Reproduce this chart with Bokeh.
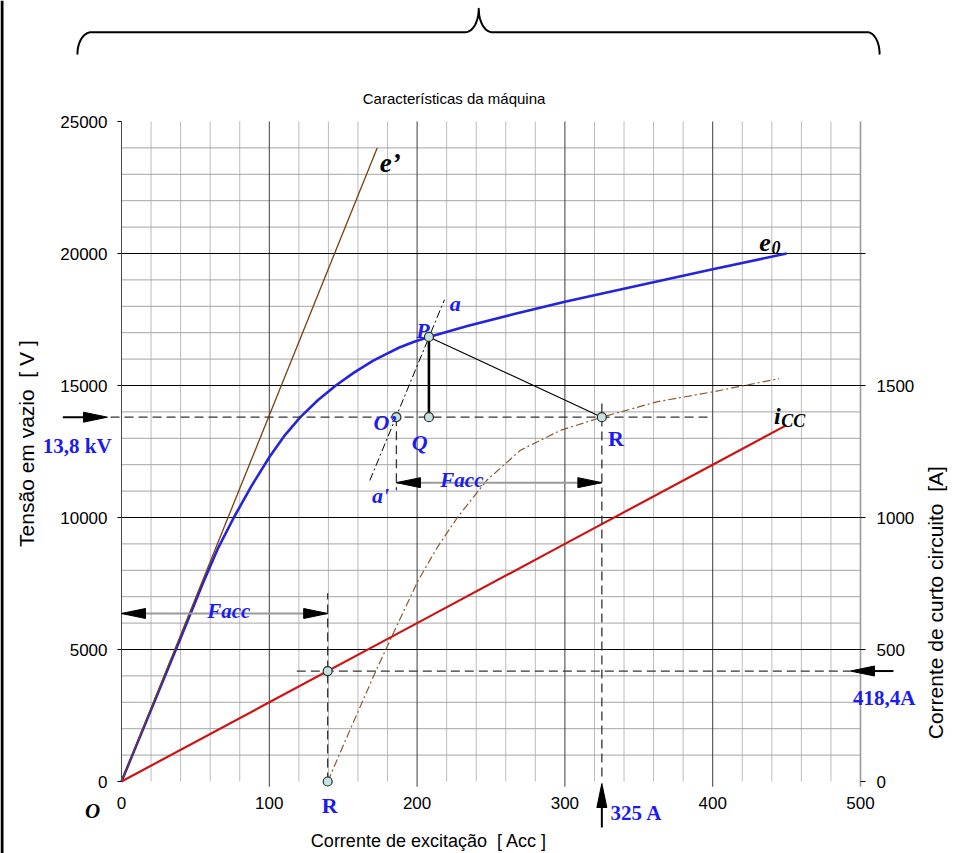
import numpy as np
from bokeh.plotting import figure
from bokeh.models import Range1d, LinearAxis, FixedTicker, Label, Arrow, PolyAnnotation
from bokeh.embed import file_html
from bokeh.resources import INLINE

# ---------------------------------------------------------------------------
# Machine characteristics
# ---------------------------------------------------------------------------
# open-circuit characteristic e0: field current [A] -> voltage [V]
oc_if = [0, 20, 40, 55, 65, 76, 88, 100, 110, 121, 133, 145, 157, 170, 180, 188,
         198, 208, 234, 265, 300, 346, 400, 450]
oc_e = [0, 2720, 5440, 7500, 8800, 10000, 11200, 12280, 13080, 13800, 14450,
        15000, 15480, 15930, 16220, 16440, 16660, 16840, 17250, 17700, 18170,
        18740, 19400, 20000]

# air-gap line e'
ag_if = [0, 173]
ag_e = [0, 24000]

# short-circuit characteristic icc: field current [A] -> armature current [A]
sc_if = [0, 100, 200, 300, 400, 450]
sc_i = [0, 300, 600, 900, 1200, 1350]

# load characteristic (zero power factor), starting at R on the axis
zp_if = [139.5, 155, 170.6, 185, 200.8, 214, 227.5, 247, 270, 297, 325, 362, 400, 445]
zp_e = [0, 2000, 4000, 5750, 7620, 8900, 10020, 11400, 12550, 13300, 13800,
        14380, 14760, 15260]

# operating point construction
V_RATED = 13800      # V
I_RATED = 418.4      # A
IF_RATED = 325       # A (field current at R)
IF_SC = 139.5        # A (field current for rated short-circuit current)
P_IF, P_E = 208, 16840
OP_IF = 186          # O'
A_LINE_IF = [168, 218.5]
A_LINE_E = [11400, 18250]

# axes
x_ticks = [0, 100, 200, 300, 400, 500]
y_ticks = [0, 5000, 10000, 15000, 20000, 25000]
i_ticks = [0, 500, 1000, 1500, 2000]

# ---------------------------------------------------------------------------
SANS = "Liberation Sans"
SERIF = "Liberation Serif"
BLUE = "#1c1cf0"
NB = "\u00a0"
CUR = 10.0                      # right axis (A) vs left axis (V)
PXX = 739 / 500                 # pixels per field-current unit
PXY = 660 / 25000               # pixels per volt
W, H = 956, 853
X_LO, X_HI = -121 / PXX, (W - 121) / PXX
Y_LO, Y_HI = -(H - 781) / PXY, 25000 + 121 / PXY

p = figure(width=W, height=H, x_range=Range1d(X_LO, X_HI), y_range=Range1d(Y_LO, Y_HI),
           output_backend="svg", toolbar_location=None, title_location=None,
           min_border=0, min_border_left=0, min_border_right=0, min_border_top=0,
           min_border_bottom=0)
p.outline_line_color = None
p.background_fill_color = "white"
p.border_fill_color = "white"
p.xgrid.visible = False
p.ygrid.visible = False
p.extra_y_ranges = {"cur": Range1d(Y_LO / CUR, Y_HI / CUR)}

# bottom axis, drawn on the zero line
xa = p.xaxis[0]
xa.fixed_location = 0
xa.bounds = (0, 500)
xa.ticker = FixedTicker(ticks=x_ticks)
xa.axis_line_color = None
xa.major_tick_line_color = None
xa.minor_tick_line_color = None
xa.major_tick_out = 0
xa.major_tick_in = 0
xa.major_label_standoff = 15
xa.major_label_text_font = SANS
xa.major_label_text_font_size = "17px"
xa.major_label_text_color = "black"

# left axis, drawn at zero field current
ya = p.yaxis[0]
ya.fixed_location = 0
ya.ticker = FixedTicker(ticks=y_ticks)
ya.bounds = (0, 25000)
ya.axis_line_color = "#4a4a4a"
ya.major_tick_line_color = "black"
ya.major_tick_out = 4
ya.major_tick_in = 0
ya.minor_tick_line_color = None
ya.major_label_standoff = 10
ya.major_label_text_font = SANS
ya.major_label_text_font_size = "17px"
ya.major_label_text_color = "black"

# right axis (short-circuit current), drawn at 500 A
ra = LinearAxis(y_range_name="cur", ticker=FixedTicker(ticks=i_ticks),
                major_label_overrides={2000: ""}, fixed_location=500, bounds=(0, 2000))
ra.axis_line_color = None
ra.major_tick_line_color = "black"
ra.major_tick_out = 5
ra.major_tick_in = 0
ra.minor_tick_line_color = None
ra.major_label_standoff = 11
ra.major_label_text_font = SANS
ra.major_label_text_font_size = "17px"
ra.major_label_text_color = "black"
p.add_layout(ra, "right")

# ---------------------------------------------------------------------------
# grid
minor_x = [v for v in range(20, 500, 20) if v % 100]
major_x = [100, 200, 300, 400]
minor_y = [v for v in range(1000, 25000, 1000) if v % 5000]
major_y = [5000, 10000, 15000, 20000]
p.segment(x0=minor_x, y0=0, x1=minor_x, y1=25000, line_color="#bcbcbc", line_width=1)
p.segment(x0=0, y0=minor_y, x1=500, y1=minor_y, line_color="#a4a4a4", line_width=1)
p.segment(x0=major_x, y0=-200, x1=major_x, y1=25000, line_color="#3c3c3c", line_width=1)
p.segment(x0=[500], y0=-200, x1=[500], y1=25000, line_color="#9a9a9a", line_width=1.6)
p.segment(x0=0, y0=major_y, x1=500, y1=major_y, line_color="black", line_width=1)

# ---------------------------------------------------------------------------
# characteristics
DASHDOT = "8 3 2 3"
p.line(oc_if, oc_e, line_color="#2424d8", line_width=2.6, line_join="round")
p.line(ag_if, ag_e, line_color="#7a3f0c", line_width=1.3)
p.line(zp_if, zp_e, line_color="#8b5a2b", line_width=1.2, line_dash=DASHDOT)
p.line(sc_if, sc_i, y_range_name="cur", line_color="#cc1414", line_width=2.2,
       line_join="round")

# construction lines
DASH = "9 5"
DCOL = "#333333"
p.line(A_LINE_IF, A_LINE_E, line_color="black", line_width=1, line_dash=DASHDOT)
p.line([P_IF, IF_RATED], [P_E, V_RATED], line_color="black", line_width=1.2)
p.line([P_IF, P_IF], [P_E, V_RATED], line_color="black", line_width=2.6)
p.line([IF_RATED, IF_RATED], [14320, 0], line_color=DCOL, line_width=1.3, line_dash=DASH)
p.line([OP_IF, OP_IF], [V_RATED, 11030], line_color=DCOL, line_width=1.3, line_dash=DASH)
p.line([118.6, 493], [I_RATED * CUR, I_RATED * CUR], line_color=DCOL, line_width=1.3,
       line_dash=DASH)
p.line([IF_SC, IF_SC], [0, 7130], line_color=DCOL, line_width=1.3, line_dash=DASH)
p.line([-7.4, 398], [V_RATED, V_RATED], line_color=DCOL, line_width=1.3, line_dash=DASH)

# Facc dimension lines
FACC_UP = 11320
FACC_LO = 6364
p.line([OP_IF, IF_RATED], [FACC_UP, FACC_UP], line_color="#9a9a9a", line_width=2)
p.line([0, IF_SC], [FACC_LO, FACC_LO], line_color="#9a9a9a", line_width=2)


def head(tx, ty, direction, length=24, half=5):
    """Filled arrow head with its tip at (tx, ty)."""
    if direction in ("left", "right"):
        s = 1 if direction == "right" else -1
        bx = tx - s * length / PXX
        hw = half / PXY
        xs, ys = [tx, bx, bx], [ty, ty + hw, ty - hw]
    else:
        by = ty - length / PXY
        hw = half / PXX
        xs, ys = [tx, tx - hw, tx + hw], [ty, by, by]
    p.add_layout(PolyAnnotation(xs=xs, ys=ys, fill_color="black", fill_alpha=1,
                                line_color="black", line_alpha=1, line_width=1))


head(OP_IF, FACC_UP, "left")
head(IF_RATED, FACC_UP, "right")
head(0, FACC_LO, "left")
head(IF_SC, FACC_LO, "right")

# rated voltage, rated current and rated field current pointers
p.add_layout(Arrow(end=None, x_start=-39.7, y_start=V_RATED, x_end=-20, y_end=V_RATED,
                   line_color="black", line_width=2))
head(-9.5, V_RATED, "right")
p.add_layout(Arrow(end=None, x_start=522.3, y_start=I_RATED * CUR, x_end=505,
                   y_end=I_RATED * CUR, line_color="black", line_width=2))
head(493.2, I_RATED * CUR, "left")
p.add_layout(Arrow(end=None, x_start=IF_RATED, y_start=-1742, x_end=IF_RATED, y_end=-500,
                   line_color="black", line_width=2))
head(IF_RATED, -76, "up")

# construction points
pts_x = [P_IF, P_IF, OP_IF, IF_RATED, IF_SC, IF_SC]
pts_y = [P_E, V_RATED, V_RATED, V_RATED, 0, I_RATED * CUR]
p.scatter(pts_x, pts_y, size=9, marker="circle", fill_color="#c3e4e1",
          line_color="#2a2a2a", line_width=1.2)

# ---------------------------------------------------------------------------
# texts


def label(text, x, y, size, color="black", font=SERIF, style="bold italic",
          align="center", baseline="alphabetic", angle=0):
    p.add_layout(Label(text=text, x=x, y=y, text_font=font, text_font_size=size,
                       text_color=color, text_font_style=style, text_align=align,
                       text_baseline=baseline, angle=angle))


label("13,8 kV", -30.0, 12698, "21px", BLUE, style="bold")
label("P", 204.0, 17081, "22px", BLUE)
label("a", 225.8, 18116, "22px", BLUE)
label("O\u2019", 178.4, 13607, "22px", BLUE)
label("Q", 201.8, 12838, "22px", BLUE)
label("a'", 175.2, 10829, "22px", BLUE)
label("R", 334.6, 12978, "22px", BLUE, style="bold")
label("R", 140.9, -917, "22px", BLUE, style="bold")
label("Facc", 230.3, 11424, "21px", BLUE)
label("Facc", 72.6, 6445, "21px", BLUE)
label("325 A", 330.9, -1194, "21px", BLUE, style="bold", align="left")
label("418,4A", 516.1, 3164, "21px", BLUE, style="bold")

label("e\u2019", 174.8, 23410, "27px", align="left")
label("e", 435.4, 20416, "26px")
label("0", 442.8, 20215, "18px")
label("i", 441.4, 13861, "24px", align="left")
label("CC", 446.4, 13671, "18px", align="left")
label("O", -19.5, -1106, "21px")

label("Tens\u00e3o em vazio " + NB + "[ V ]", -64.3, 12800, "21px", font=SANS,
      style="normal", baseline="middle", angle=np.pi / 2)
label("Corrente de curto circuito " + NB + "[A]", 550.7, 6774, "21px", font=SANS,
      style="normal", baseline="middle", angle=np.pi / 2)
label("Corrente de excita\u00e7\u00e3o " + NB + "[ Acc ]", 208, -2243, "18px", font=SANS,
      style="normal", baseline="middle")
label("Caracter\u00edsticas da m\u00e1quina", 225, 25872, "15px", font=SANS,
      style="normal", baseline="middle")

# brace over the chart
t = np.linspace(0, np.pi / 2, 16)
bx, by = [], []
bx += list(-20.3 - 9.5 * np.cos(t)); by += list(27566 + 818 * np.sin(t))
bx += list(232.7 + 9.0 * np.sin(t)); by += list(29272 - 888 * np.cos(t))
bx += list(250.7 - 9.0 * np.sin(t[::-1])); by += list(29272 - 888 * np.cos(t[::-1]))
bx += list(504.5 + 8.4 * np.cos(t[::-1])); by += list(27566 + 818 * np.sin(t[::-1]))
p.add_layout(PolyAnnotation(xs=bx + bx[::-1], ys=by + by[::-1], fill_alpha=0,
                            line_color="black", line_alpha=1, line_width=2,
                            line_join="round"))

# page frame line on the left
p.add_layout(Arrow(end=None, x_start=-80.85, y_start=Y_HI, x_end=-80.85, y_end=Y_LO,
                   line_color="black", line_width=3))

open("out.html", "w").write(file_html(p, INLINE))
